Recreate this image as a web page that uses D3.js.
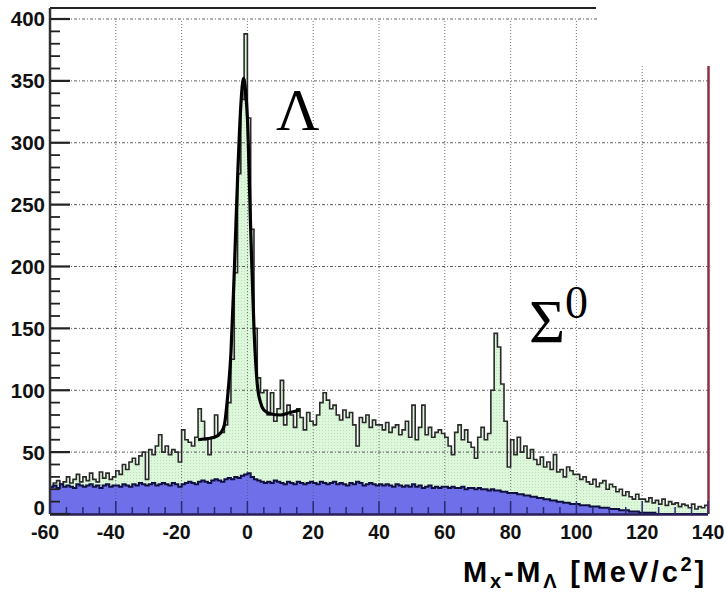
<!DOCTYPE html>
<html>
<head>
<meta charset="utf-8">
<script src="https://cdn.jsdelivr.net/npm/d3@7"></script>
<style>
  html, body { margin: 0; padding: 0; background: #fff; }
  svg { display: block; }
</style>
</head>
<body>
<svg id="chart" width="727" height="593"></svg>
<script>
// ---- data (1 MeV bins, first bin starts at -60) ----
const binStart = -60;
const binWidth = 1;
const signal = [
  22,25,27,24,26,30,25,28,32,26,30,27,33,28,26,34,29,33,28,30,
  35,32,40,36,42,45,40,47,50,28,52,48,55,64,50,55,48,52,50,42,
  68,60,58,55,62,85,75,60,48,62,80,65,
  66,72,90,125,195,275,335,388,320,230,150,110,98,
  100,80,98,75,85,108,72,88,80,70,85,78,68,82,75,
  72,80,90,98,92,85,88,80,76,84,78,82,72,55,78,74,80,70,76,72,
  72,68,74,66,70,72,64,68,75,62,88,60,70,88,64,70,62,66,68,65,
  62,55,48,66,72,60,68,58,54,45,62,70,60,65,100,146,135,105,75,38,
  60,48,62,50,55,45,52,44,40,46,38,42,36,48,34,36,30,38,35,32,
  32,28,30,26,24,28,22,25,27,20,24,22,18,20,15,18,14,12,16,12,
  12,10,13,9,11,8,12,7,10,8,9,6,8,7,5,8,4,6,5,7
];
const background = [
  22,23,21,24,22,23,22,21,24,23,22,23,24,22,23,21,23,24,22,23,
  23,22,24,23,22,24,23,25,24,23,24,25,23,24,25,24,23,25,24,22,
  24,25,26,25,24,26,27,26,25,27,28,27,26,28,29,28,30,29,31,32,
  33,30,28,27,26,25,26,25,27,26,25,24,26,25,24,26,25,24,25,26,
  25,24,26,25,24,25,26,24,25,24,23,25,24,26,25,23,24,25,24,23,
  24,23,24,23,22,24,23,22,23,22,24,22,23,21,22,23,21,22,21,22,
  22,21,22,21,21,22,20,21,21,20,21,20,20,19,20,19,19,18,18,17,
  17,17,16,16,15,15,14,14,13,13,12,12,11,11,10,10,9,9,8,8,
  8,7,7,7,6,6,6,5,5,5,4,4,4,3,3,3,2,2,2,1,
  1,1,1,1,0,0,0,0,0,0,0,0,0,0,0,0,0,0,0,0
];
const fitX = [-15,-12,-10,-8,-7,-6,-5,-4,-3,-2,-1.2,-0.5,0,1,2,3,4,5,7,10,13,16];
const fitY = [ 60, 61, 62,66,72,95,130,195,270,330,352,340,320,230,150,105,90,84,81,80,82,84];
const xTicks = [-60,-40,-20,0,20,40,60,80,100,120,140];
const yTicks = [0,50,100,150,200,250,300,350,400];

// ---- layout ----
const svg = d3.select("#chart");
const x = d3.scaleLinear().domain([-60, 140]).range([50, 708]);
const y = d3.scaleLinear().domain([0, 400]).range([514, 19]);

// pattern for green fill
const defs = svg.append("defs");
const pat = defs.append("pattern").attr("id", "dots").attr("width", 3).attr("height", 3)
  .attr("patternUnits", "userSpaceOnUse");
pat.append("rect").attr("width", 3).attr("height", 3).attr("fill", "#ddf7da");
pat.append("rect").attr("x", 1).attr("y", 1).attr("width", 1).attr("height", 1).attr("fill", "#bfe0bc");

function stepPoints(vals) {
  const pts = [[binStart, 0]];
  vals.forEach((v, i) => {
    const x0 = binStart + i * binWidth;
    pts.push([x0, v]);
    pts.push([x0 + binWidth, v]);
  });
  pts.push([binStart + vals.length * binWidth, 0]);
  return pts;
}
const line = d3.line().x(d => x(d[0])).y(d => y(d[1]));

// green histogram fill
svg.append("path").attr("d", line(stepPoints(signal)) + "Z").attr("fill", "url(#dots)").attr("stroke", "none");
// blue background fill
svg.append("path").attr("d", line(stepPoints(background)) + "Z").attr("fill", "#6f6fe9").attr("stroke", "none");

// grid
const g = svg.append("g").attr("class", "grid");
xTicks.filter(t => t > -60 && t < 140).forEach(t => {
  g.append("line").attr("x1", x(t)).attr("x2", x(t)).attr("y1", y(0)).attr("y2", y(400))
    .attr("stroke", "#555").attr("stroke-width", 1).attr("stroke-dasharray", "1,2").attr("opacity", 0.8);
});
yTicks.filter(t => t > 0).forEach(t => {
  g.append("line").attr("x1", x(-60)).attr("x2", x(140)).attr("y1", y(t)).attr("y2", y(t))
    .attr("stroke", "#444").attr("stroke-width", 1).attr("stroke-dasharray", "3,2,1,2").attr("opacity", 0.85);
});

// histogram outlines
const stepTop = vals => {
  const pts = [];
  vals.forEach((v, i) => {
    const x0 = binStart + i * binWidth;
    pts.push([x0, v]); pts.push([x0 + binWidth, v]);
  });
  return pts;
};
svg.append("path").attr("d", line(stepTop(signal))).attr("fill", "none")
  .attr("stroke", "#2a2a2a").attr("stroke-width", 1.6);
svg.append("path").attr("d", line(stepTop(background))).attr("fill", "none")
  .attr("stroke", "#101040").attr("stroke-width", 2);

// fit curve
const fitLine = d3.line().x(d => x(d[0])).y(d => y(d[1])).curve(d3.curveMonotoneX);
svg.append("path").attr("d", fitLine(fitX.map((v, i) => [v, fitY[i]])))
  .attr("fill", "none").attr("stroke", "#000").attr("stroke-width", 3.2);

// cropped top-right area (white)
svg.append("rect").attr("x", 597).attr("y", 0).attr("width", 130).attr("height", 66).attr("fill", "#fff");

// frame
svg.append("line").attr("x1", 50).attr("x2", 596).attr("y1", 8).attr("y2", 8).attr("stroke", "#222").attr("stroke-width", 2);
svg.append("line").attr("x1", 50).attr("x2", 50).attr("y1", 8).attr("y2", y(0)).attr("stroke", "#333").attr("stroke-width", 2.5);
svg.append("line").attr("x1", 708.5).attr("x2", 708.5).attr("y1", 66).attr("y2", y(0)).attr("stroke", "#8a3246").attr("stroke-width", 2.5);
svg.append("line").attr("x1", 50).attr("x2", 708).attr("y1", y(0) + 0.5).attr("y2", y(0) + 0.5).attr("stroke", "#2a1f55").attr("stroke-width", 2.5);

// y ticks
d3.range(0, 401, 10).forEach(t => {
  const major = t % 50 === 0;
  svg.append("line").attr("x1", 50).attr("x2", 50 + (major ? 20 : 10)).attr("y1", y(t)).attr("y2", y(t))
    .attr("stroke", "#222").attr("stroke-width", major ? 2.2 : 1.8);
});
// x ticks
d3.range(-60, 141, 5).forEach(t => {
  const major = t % 20 === 0;
  svg.append("line").attr("x1", x(t)).attr("x2", x(t)).attr("y1", y(0)).attr("y2", y(0) - (major ? 13 : 7))
    .attr("stroke", "#2a2a70").attr("stroke-width", 1.5);
});

// tick labels
svg.append("g").selectAll("text").data(yTicks).join("text")
  .attr("x", 45).attr("y", d => y(d) - (d === 0 ? 6 : 0)).attr("dy", "0.36em")
  .attr("text-anchor", "end").attr("font-family", "Liberation Sans, Arial, sans-serif")
  .attr("font-weight", "bold").attr("font-size", 20.5).attr("fill", "#111").text(d => d);
svg.append("g").selectAll("text").data(xTicks).join("text")
  .attr("x", d => x(d) - (d < 0 ? 5 : 0)).attr("y", 539)
  .attr("text-anchor", "middle").attr("font-family", "Liberation Sans, Arial, sans-serif")
  .attr("font-weight", "bold").attr("font-size", 19.5).attr("fill", "#111").text(d => d);

// axis title
const title = svg.append("text").attr("x", 463).attr("y", 582)
  .attr("font-family", "Liberation Sans, Arial, sans-serif").attr("font-weight", "bold")
  .attr("font-size", 29).attr("letter-spacing", 2.8).attr("fill", "#000");
title.append("tspan").text("M");
title.append("tspan").attr("font-size", 20).attr("dy", 6).text("x");
title.append("tspan").attr("dy", -6).text("-M");
title.append("tspan").attr("font-size", 20).attr("dy", 6).text("Λ");
title.append("tspan").attr("dy", -6).text(" [MeV/c");
title.append("tspan").attr("font-size", 20).attr("dy", -11).text("2");
title.append("tspan").attr("dy", 11).text("]");

// particle labels
svg.append("text").attr("x", 276).attr("y", 130).attr("font-family", "Liberation Serif, Times New Roman, serif")
  .attr("font-size", 60).attr("fill", "#000").text("Λ");
const sig = svg.append("text").attr("x", 529).attr("y", 342).attr("font-family", "Liberation Serif, Times New Roman, serif")
  .attr("font-size", 62).attr("fill", "#000");
sig.append("tspan").text("Σ");
sig.append("tspan").attr("font-size", 46).attr("dy", -24).text("0");
</script>
</body>
</html>
